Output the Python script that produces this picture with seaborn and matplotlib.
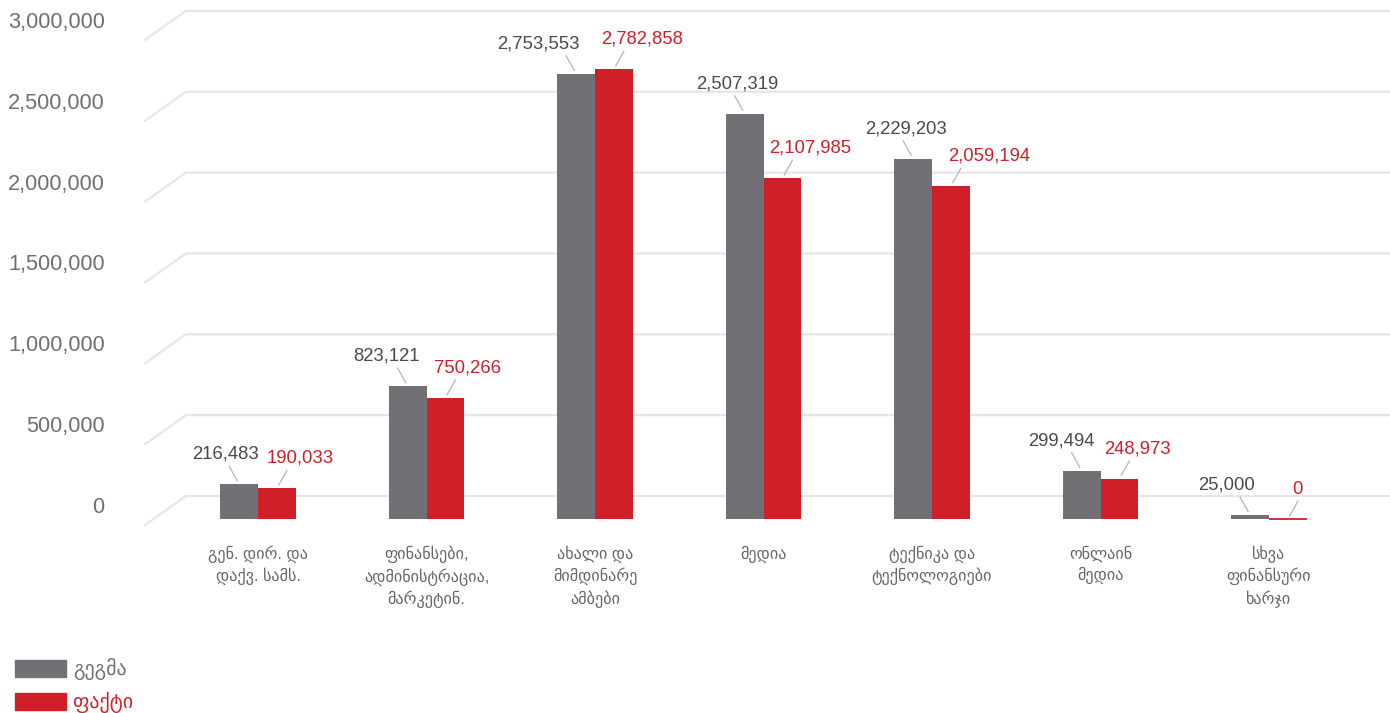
import numpy as np
import pandas as pd
import matplotlib
matplotlib.use("Agg")
import matplotlib.pyplot as plt
import matplotlib.transforms as mtransforms
from matplotlib.patches import Rectangle
import seaborn as sns

# dados
categorias = [
    "გენ. დირ. და\nდაქვ. სამს.",
    "ფინანსები,\nადმინისტრაცია,\nმარკეტინ.",
    "ახალი და\nმიმდინარე\nამბები",
    "მედია",
    "ტექნიკა და\nტექნოლოგიები",
    "ონლაინ\nმედია",
    "სხვა\nფინანსური\nხარჯი",
]
gegma = [216483, 823121, 2753553, 2507319, 2229203, 299494, 25000]
pakti = [190033, 750266, 2782858, 2107985, 2059194, 248973, 0]
seriebi = ["გეგმა", "ფაქტი"]
yticks = [0, 500000, 1000000, 1500000, 2000000, 2500000, 3000000]

GRAY = "#717175"
RED = "#cf2029"

df = pd.DataFrame({
    "cat": categorias * 2,
    "val": gegma + pakti,
    "serie": [seriebi[0]] * 7 + [seriebi[1]] * 7,
})

sns.set_style("white")
plt.rcParams["font.family"] = ["Liberation Sans", "DejaVu Sans"]

fig = plt.figure(figsize=(13.9, 7.13), dpi=100)
# eixo: px 145..1390 na horizontal, px 0..540 na vertical
ax = fig.add_axes([145 / 1390, (713 - 540) / 713, 1245 / 1390, 540 / 713])

sns.barplot(data=df, x="cat", y="val", hue="serie", palette=[GRAY, RED],
            width=0.45, saturation=1, dodge=True, legend=False, ax=ax,
            linewidth=0, errorbar=None)

escala = 161.7 / 1e6  # px por unidade
x0 = (145 - 258) / 168.5
x1 = (1390 - 258) / 168.5
ax.set_xlim(x0, x1)
ax.set_ylim(-21 / escala, 519 / escala)

# grade em perspectiva
tr = mtransforms.blended_transform_factory(ax.transAxes, ax.transData)
back = 23 / escala
front = -6 / escala
dx = 41 / 1245
for v in yticks:
    ax.plot([0, dx, 1], [v + front, v + back, v + back], color="#e6e6e6",
            lw=1.6, transform=tr, clip_on=False, zorder=0)

for s in ax.spines.values():
    s.set_visible(False)

ax.set_yticks(np.array(yticks) + 14 / escala,
              [f"{v:,}" for v in yticks])
ax.tick_params(axis="y", length=0, pad=29, labelsize=15.7, labelcolor="#707070")
ax.set_xticks(range(len(categorias)), categorias)
ax.tick_params(axis="x", length=0, pad=4, labelsize=11.6, labelcolor="#666666")
for t in ax.get_xticklabels():
    t.set_linespacing(1.35)
ax.set_xlabel("")
ax.set_ylabel("")

# rotulos de valor
dx_gegma = [-14, -21, -38, -7, -7, -20, -24]
dx_pakti = [23, 22, 28, 28, 38, 18, 9]
for k, (cont, vals, offs, cor, sinal) in enumerate([
        (ax.containers[0], gegma, dx_gegma, "#4a4a4a", -1),
        (ax.containers[1], pakti, dx_pakti, RED, 1)]):
    for bar, v, o in zip(cont, vals, offs):
        cx = bar.get_x() + bar.get_width() / 2
        h = bar.get_height()
        if h == 0:
            bar.set_edgecolor(RED)
            bar.set_linewidth(1.3)
        ax.annotate("", xy=(cx, h), xytext=(sinal * 10, 18),
                    textcoords="offset pixels",
                    arrowprops=dict(arrowstyle="-", color="#b5b5b5", lw=0.9,
                                    shrinkA=0, shrinkB=2.5))
        ax.annotate(f"{v:,}", xy=(cx, h), xytext=(o, 30),
                    textcoords="offset pixels", ha="center", va="center",
                    fontsize=13.3, color=cor)

# legenda
for i, (nome, cor) in enumerate(zip(seriebi, [GRAY, RED])):
    ytop = 660 + i * 33
    fig.patches.append(Rectangle((15 / 1390, (713 - ytop - 17) / 713),
                                 51 / 1390, 17 / 713, color=cor,
                                 transform=fig.transFigure))
    fig.text(73 / 1390, (713 - ytop - 9) / 713, nome, fontsize=14.3,
             color="#707070" if i == 0 else RED, va="center", ha="left")

fig.savefig("out.png", dpi=100)
